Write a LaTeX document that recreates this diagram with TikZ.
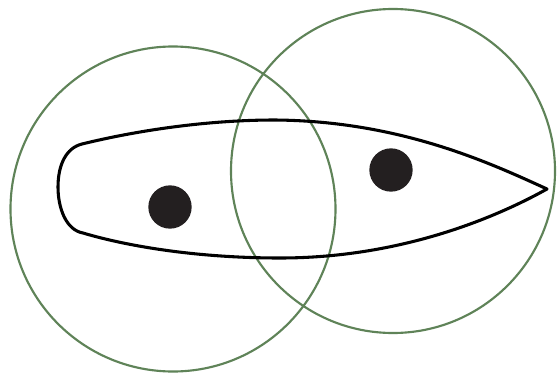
\documentclass[tikz,border=0pt]{standalone}
\definecolor{ring}{HTML}{5F8358}
\definecolor{dot}{HTML}{231F20}
\begin{document}
\begin{tikzpicture}[x=1pt,y=-1pt,
  ringline/.style={draw=ring,line width=1.6pt},
  hull/.style={draw=black,line width=2.3pt,line join=round},
  spot/.style={fill=dot,circle,inner sep=0pt,minimum size=32.5pt}]
\useasboundingbox (0,0) rectangle (420,281.25);
\fill[white] (0,0) rectangle (420,281.25);
\begin{scope}[scale=0.75]
\draw[ringline] (173,209) circle (162.5);
\draw[ringline] (393,171) circle (162);
\draw[hull] (547,189) .. controls (490,163) and (400,121) .. (275,120)
  .. controls (205,120) and (135,131) .. (82,144)
  .. controls (66,148) and (58,165) .. (58,187)
  .. controls (58,208) and (66,230) .. (83,233)
  .. controls (130,247) and (200,258) .. (280,258)
  .. controls (400,258) and (495,218) .. (547,189) -- cycle;
\node[spot] (a) at (170,207) {};
\node[spot] (b) at (391,170) {};
\end{scope}
\end{tikzpicture}
\end{document}
